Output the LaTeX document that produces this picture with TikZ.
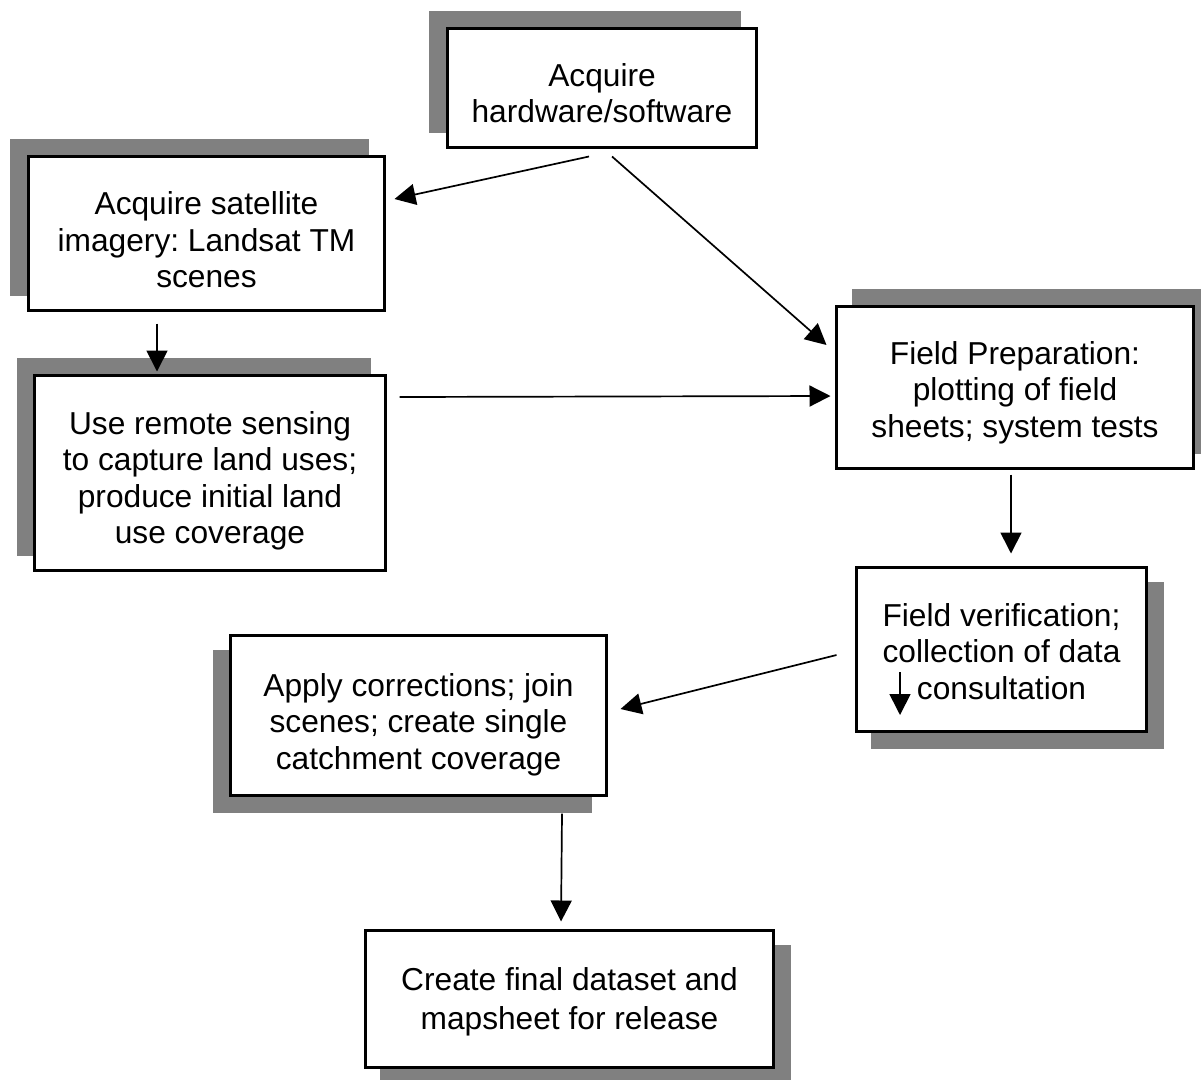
\documentclass[tikz,border=0pt]{standalone}
\usepackage{fontspec}
\setmainfont{Liberation Sans}
\frenchspacing
\usetikzlibrary{arrows.meta,shadows}
\definecolor{shadowgray}{RGB}{128,128,128}
\tikzset{
  flowbox/.style={draw=black, line width=3pt, fill=white, inner sep=0pt},
  boxtext/.style={inner sep=0pt, align=center, font=\fontsize{31.7}{36.5}\selectfont},
  sh/.style 2 args={general shadow={fill=shadowgray, draw=shadowgray, line width=3pt,
    shadow xshift=#1, shadow yshift=#2}},
  arr/.style={line width=1.7pt, -{Triangle[length=21pt,width=21pt]}},
}
\begin{document}
\begin{tikzpicture}[x=1pt,y=-1pt]
\useasboundingbox (0,0) rectangle (1201,1079);
\node[flowbox, sh={-17pt}{16pt}, minimum width=309pt, minimum height=119pt] (b1) at (602,88) {};
\node[flowbox, sh={-17pt}{16pt}, minimum width=356pt, minimum height=154pt] (b2) at (206.5,233.5) {};
\node[flowbox, sh={-16pt}{16pt}, minimum width=351pt, minimum height=195pt] (b3) at (210,473) {};
\node[flowbox, sh={17pt}{16pt}, minimum width=357pt, minimum height=162pt] (b4) at (1015,387.5) {};
\node[flowbox, sh={16pt}{-16pt}, minimum width=290pt, minimum height=164pt] (b5) at (1001.5,649.5) {};
\node[flowbox, sh={-16pt}{-16pt}, minimum width=376pt, minimum height=160pt] (b6) at (418.5,715.5) {};
\node[flowbox, sh={16pt}{-16pt}, minimum width=408pt, minimum height=137pt] (b7) at (569.5,999) {};
% texts
\node[boxtext] (t1) at ([yshift=-5pt]b1.center) {Acquire\\hardware/software};
\node[boxtext] (t2) at ([yshift=-6.5pt]b2.center) {Acquire satellite\\imagery: Landsat TM\\scenes};
\node[boxtext] (t3) at ([yshift=-8pt]b3.center) {Use remote sensing\\to capture land uses;\\produce initial land\\use coverage};
\node[boxtext] (t4) at ([yshift=-5pt]b4.center) {Field Preparation:\\plotting of field\\sheets; system tests};
\node[boxtext] (t5) at ([yshift=-2pt]b5.center) {Field verification;\\collection of data\\consultation};
\node[boxtext] (t6) at ([yshift=-9pt]b6.center) {Apply corrections; join\\scenes; create single\\catchment coverage};
\node[boxtext, font=\fontsize{31.7}{39}\selectfont] (t7) at ([yshift=-3pt]b7.center) {Create final dataset and\\mapsheet for release};
% connectors
\draw[arr] ([shift={(-13,7.5)}]b1.south) -- ([shift={(8.5,-34.5)}]b2.east);
\draw[arr] ([shift={(10,7.5)}]b1.south) -- ([shift={(-8.5,-42.5)}]b4.west);
\draw[arr] ([shift={(12.5,-76)}]b3.east) -- ([shift={(-4.5,8.5)}]b4.west);
\draw[arr] ([shift={(-49.5,11.5)}]b2.south) -- ([shift={(-53,-2.5)}]b3.north);
\draw[arr] ([shift={(-4,4.5)}]b4.south) -- ([shift={(9.5,-12.5)}]b5.north);
\draw[arr] ([shift={(-18.5,5.5)}]b5.west) -- ([shift={(12.5,-6.5)}]b6.east);
\draw[arr] ([shift={(143.5,16.5)}]b6.south) -- ([shift={(-8.5,-7.5)}]b7.north);
\coordinate (s5a) at ([shift={(-101.5,22.5)}]b5.center);
\coordinate (s5b) at ([shift={(-101.5,65.5)}]b5.center);
\draw[arr] (s5a) -- (s5b);
\end{tikzpicture}
\end{document}
